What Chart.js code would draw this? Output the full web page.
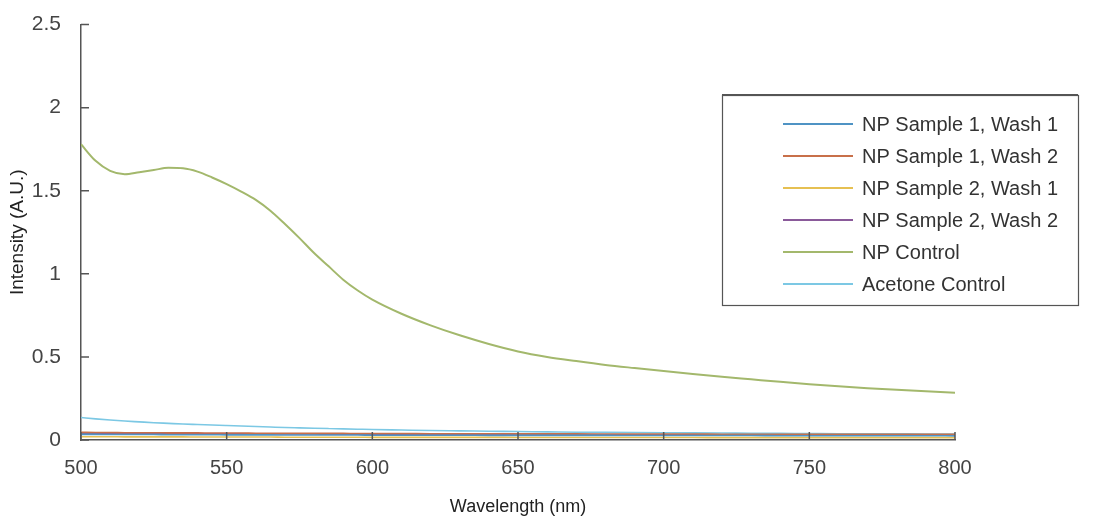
<!DOCTYPE html>
<html>
<head>
<meta charset="utf-8">
<script src="https://cdn.jsdelivr.net/npm/chart.js@4"></script>
<style>
  body { margin: 0; background: #fff; }
  #wrap { width: 1112px; height: 522px; }
</style>
</head>
<body>
<div id="wrap"><canvas id="spectra" width="1112" height="522"></canvas></div>
<script>
const wavelengths = [500, 505, 510, 515, 520, 525, 530, 535, 540, 545, 550, 555, 560, 565, 570, 575, 580, 585, 590, 595, 600,
  610, 620, 630, 640, 650, 660, 670, 680, 690, 700, 710, 720, 730, 740, 750, 760, 770, 780, 790, 800];

const seriesNames = ["NP Sample 1, Wash 1", "NP Sample 1, Wash 2", "NP Sample 2, Wash 1", "NP Sample 2, Wash 2", "NP Control", "Acetone Control"];

const s1w1 = [0.034, 0.034, 0.033, 0.033, 0.033, 0.033, 0.032, 0.032, 0.032, 0.032, 0.031, 0.031, 0.031, 0.031, 0.030, 0.030, 0.030, 0.030, 0.030, 0.030, 0.029,
  0.029, 0.029, 0.029, 0.028, 0.028, 0.028, 0.028, 0.028, 0.027, 0.027, 0.027, 0.027, 0.027, 0.026, 0.026, 0.026, 0.026, 0.026, 0.026, 0.025];
const s1w2 = [0.046, 0.045, 0.045, 0.044, 0.044, 0.044, 0.043, 0.043, 0.043, 0.042, 0.042, 0.042, 0.041, 0.041, 0.041, 0.040, 0.040, 0.040, 0.040, 0.039, 0.039,
  0.039, 0.038, 0.038, 0.038, 0.037, 0.037, 0.037, 0.036, 0.036, 0.036, 0.036, 0.035, 0.035, 0.035, 0.035, 0.034, 0.034, 0.034, 0.034, 0.034];
const s2w1 = [0.020, 0.020, 0.020, 0.019, 0.019, 0.019, 0.019, 0.019, 0.018, 0.018, 0.018, 0.018, 0.018, 0.018, 0.017, 0.017, 0.017, 0.017, 0.017, 0.017, 0.016,
  0.016, 0.016, 0.016, 0.016, 0.015, 0.015, 0.015, 0.015, 0.015, 0.015, 0.015, 0.014, 0.014, 0.014, 0.014, 0.014, 0.014, 0.014, 0.014, 0.014];
const s2w2 = [0.040, 0.040, 0.039, 0.039, 0.039, 0.038, 0.038, 0.038, 0.038, 0.037, 0.037, 0.037, 0.037, 0.036, 0.036, 0.036, 0.036, 0.035, 0.035, 0.035, 0.035,
  0.034, 0.034, 0.034, 0.033, 0.033, 0.033, 0.033, 0.032, 0.032, 0.032, 0.032, 0.031, 0.031, 0.031, 0.031, 0.031, 0.030, 0.030, 0.030, 0.030];
const npControl = [1.78, 1.68, 1.62, 1.60, 1.612, 1.625, 1.638, 1.635, 1.615, 1.58, 1.54, 1.495, 1.445, 1.38, 1.30, 1.215, 1.125, 1.045, 0.965, 0.90, 0.845,
  0.76, 0.69, 0.63, 0.578, 0.533, 0.50, 0.475, 0.452, 0.433, 0.415, 0.397, 0.38, 0.365, 0.35, 0.336, 0.323, 0.312, 0.302, 0.293, 0.285];
const acetone = [0.135, 0.127, 0.12, 0.114, 0.109, 0.104, 0.10, 0.096, 0.093, 0.09, 0.087, 0.084, 0.081, 0.078, 0.075, 0.073, 0.071, 0.069, 0.067, 0.065, 0.063,
  0.06, 0.057, 0.055, 0.053, 0.051, 0.049, 0.047, 0.046, 0.045, 0.044, 0.043, 0.042, 0.041, 0.04, 0.039, 0.038, 0.038, 0.037, 0.036, 0.036];

const xTicks = [500, 550, 600, 650, 700, 750, 800];
const yTicks = [0, 0.5, 1, 1.5, 2, 2.5];

const colores = ["#4f93c4", "#c8704a", "#e6c052", "#8a5a9a", "#a3b86c", "#7cc8e4"];
const valores = [s1w1, s1w2, s2w1, s2w2, npControl, acetone];

const fuente = "'Liberation Sans', Arial, sans-serif";

// Ticks hacia dentro, estilo MATLAB
const ticksDentro = {
  id: "ticksDentro",
  afterDatasetsDraw(chart) {
    const { ctx, scales: { x, y }, chartArea } = chart;
    ctx.save();
    ctx.strokeStyle = "#555";
    ctx.lineWidth = 1.5;
    ctx.beginPath();
    xTicks.forEach(v => {
      const px = x.getPixelForValue(v);
      ctx.moveTo(px, chartArea.bottom);
      ctx.lineTo(px, chartArea.bottom - 8);
    });
    yTicks.forEach(v => {
      const py = y.getPixelForValue(v);
      ctx.moveTo(chartArea.left, py);
      ctx.lineTo(chartArea.left + 8, py);
    });
    ctx.stroke();
    ctx.restore();
  }
};

// Leyenda en caja, fuera del área del gráfico
const leyenda = {
  id: "leyenda",
  afterDraw(chart) {
    const { ctx } = chart;
    const box = { left: 722, top: 95, right: 1078, bottom: 305 };
    ctx.save();
    ctx.fillStyle = "#fff";
    ctx.fillRect(box.left, box.top, box.right - box.left, box.bottom - box.top);
    ctx.strokeStyle = "#555";
    ctx.lineWidth = 1.2;
    ctx.strokeRect(box.left + 0.5, box.top + 0.5, box.right - box.left, box.bottom - box.top);
    ctx.lineWidth = 2;
    ctx.beginPath();
    ctx.moveTo(box.left, box.top);
    ctx.lineTo(box.right, box.top);
    ctx.stroke();
    ctx.font = "20px " + fuente;
    ctx.textBaseline = "middle";
    chart.data.datasets.forEach((ds, i) => {
      const yy = 124 + i * 32;
      ctx.strokeStyle = ds.borderColor;
      ctx.lineWidth = 2;
      ctx.beginPath();
      ctx.moveTo(783, yy);
      ctx.lineTo(853, yy);
      ctx.stroke();
      ctx.fillStyle = "#333";
      ctx.fillText(ds.label, 862, yy + 1);
    });
    ctx.restore();
  }
};

new Chart(document.getElementById("spectra"), {
  type: "line",
  data: {
    datasets: seriesNames.map((nombre, i) => ({
      label: nombre,
      data: wavelengths.map((w, j) => ({ x: w, y: valores[i][j] })),
      borderColor: colores[i],
      borderWidth: i === 4 ? 2 : 1.6,
      pointRadius: 0,
      cubicInterpolationMode: "monotone",
      fill: false
    }))
  },
  options: {
    responsive: false,
    animation: false,
    layout: { padding: { left: 0, right: 157, top: 24, bottom: 0 } },
    plugins: { legend: { display: false }, tooltip: { enabled: false } },
    scales: {
      x: {
        type: "linear",
        min: 500,
        max: 800,
        afterFit: s => { s.height = 82; },
        afterBuildTicks: s => { s.ticks = xTicks.map(v => ({ value: v })); },
        grid: { display: false },
        border: { display: true, color: "#555", width: 1.5 },
        ticks: { color: "#444", padding: 8, font: { size: 20, family: fuente } },
        title: {
          display: true,
          text: "Wavelength (nm)",
          color: "#222",
          padding: { top: 4, bottom: 4 },
          font: { size: 18, family: fuente }
        }
      },
      y: {
        min: 0,
        max: 2.5,
        afterFit: s => { s.width = 81; },
        afterBuildTicks: s => { s.ticks = yTicks.map(v => ({ value: v })); },
        grid: { display: false },
        border: { display: true, color: "#555", width: 1.5 },
        ticks: {
          color: "#444",
          padding: 12,
          font: { size: 21, family: fuente },
          callback: v => String(v)
        },
        title: {
          display: true,
          text: "Intensity (A.U.)",
          color: "#222",
          padding: { top: 6, bottom: 4 },
          font: { size: 19, family: fuente }
        }
      }
    }
  },
  plugins: [ticksDentro, leyenda]
});
</script>
</body>
</html>
